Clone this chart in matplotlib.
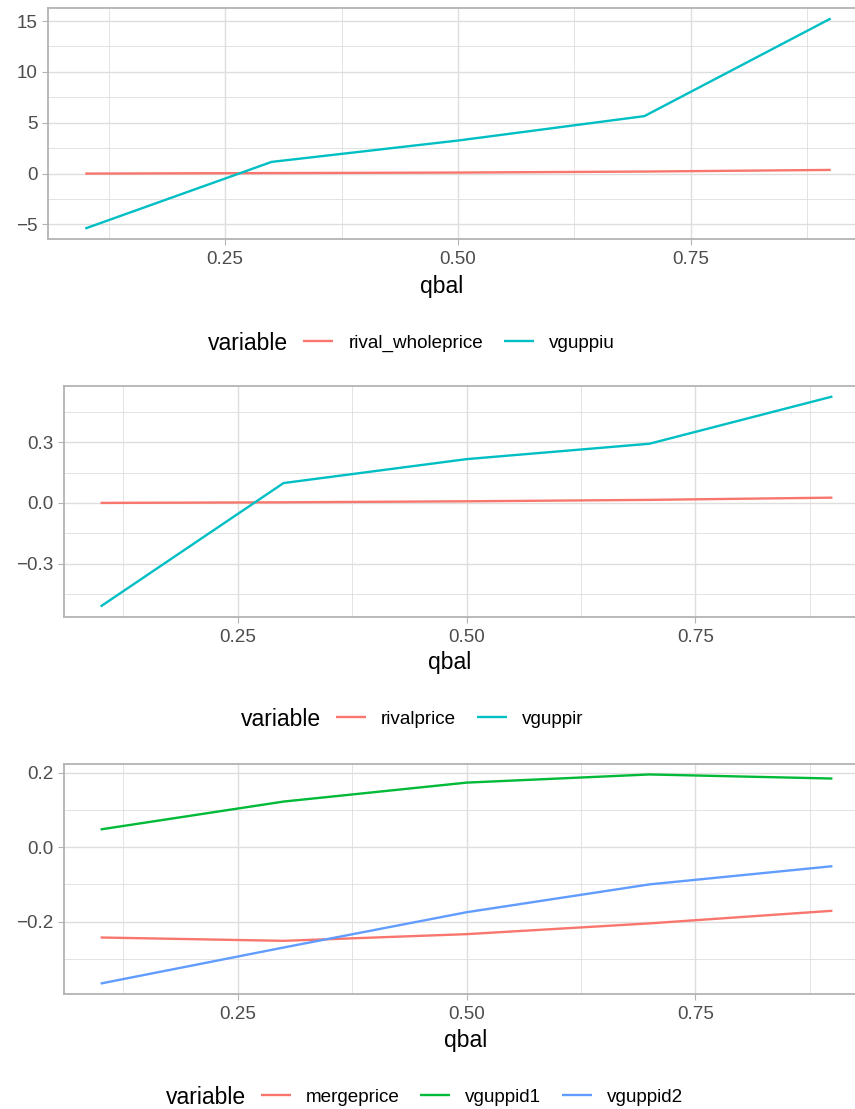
import matplotlib
matplotlib.use("Agg")
import matplotlib.pyplot as plt
from matplotlib.offsetbox import HPacker
from matplotlib.ticker import FixedLocator, FuncFormatter

plt.rcParams['font.family'] = ['Liberation Sans', 'DejaVu Sans']

# ---- data -----------------------------------------------------------------
qbal = [0.1, 0.3, 0.5, 0.7, 0.9]

# upstream panel
rival_wholeprice = [0.0, 0.05, 0.10, 0.20, 0.36]
vguppiu = [-5.40, 1.15, 3.25, 5.65, 15.25]

# retail panel
rivalprice = [0.0, 0.003, 0.008, 0.015, 0.026]
vguppir = [-0.511, 0.098, 0.216, 0.292, 0.525]

# downstream panel
mergeprice = [-0.243, -0.252, -0.234, -0.205, -0.171]
vguppid1 = [0.048, 0.123, 0.174, 0.196, 0.185]
vguppid2 = [-0.367, -0.270, -0.175, -0.100, -0.051]

x_ticks = [0.25, 0.50, 0.75]
x_minor = [0.125, 0.375, 0.625, 0.875]

# ---- styling ---------------------------------------------------------------
HUE2 = ["#F8766D", "#00BFC4"]
HUE3 = ["#F8766D", "#00BA38", "#619CFF"]
GRID = "#DEDEDE"
BORDER = "#B3B3B3"
TICKTXT = "#4D4D4D"
SMALL = 13.6
LARGE = 16.5

W, H = 855, 1109
fig = plt.figure(figsize=(W / 100, H / 100), dpi=100)


def rect(left, top, right, bottom):
    return [left / W, 1 - bottom / H, (right - left) / W, (bottom - top) / H]


def fxy(x, y):
    return (x / W, 1 - y / H)


def expand(vals, frac=0.05):
    lo, hi = min(vals), max(vals)
    d = (hi - lo) * frac
    return lo - d, hi + d


panels = [
    dict(rect=rect(48, 8, 868, 239),
         series=[("rival_wholeprice", rival_wholeprice), ("vguppiu", vguppiu)],
         colors=HUE2,
         yticks=[-5, 0, 5, 10, 15], yminor=[-2.5, 2.5, 7.5, 12.5],
         yfmt=lambda v: f"{v:g}".replace("-", "\u2212"),
         xlabel_at=(441.7, 286), legend_at=(411.5, 343)),
    dict(rect=rect(64, 386, 869, 617),
         series=[("rivalprice", rivalprice), ("vguppir", vguppir)],
         colors=HUE2,
         yticks=[-0.3, 0.0, 0.3], yminor=[-0.45, -0.15, 0.15, 0.45],
         yfmt=lambda v: f"{v:.1f}".replace("-", "\u2212"),
         xlabel_at=(450, 663), legend_at=(412, 719)),
    dict(rect=rect(64, 764, 869, 994),
         series=[("mergeprice", mergeprice), ("vguppid1", vguppid1),
                 ("vguppid2", vguppid2)],
         colors=HUE3,
         yticks=[-0.2, 0.0, 0.2], yminor=[-0.3, -0.1, 0.1],
         yfmt=lambda v: f"{v:.1f}".replace("-", "\u2212"),
         xlabel_at=(466, 1041), legend_at=(424.5, 1097)),
]

for p in panels:
    ax = fig.add_axes(p["rect"])
    handles = []
    all_y = []
    for (name, vals), col in zip(p["series"], p["colors"]):
        (ln,) = ax.plot(qbal, vals, color=col, lw=1.7, label=name,
                        solid_capstyle="butt", zorder=3)
        handles.append(ln)
        all_y += vals

    ax.set_xlim(*expand(qbal))
    ax.set_ylim(*expand(all_y))

    ax.xaxis.set_major_locator(FixedLocator(x_ticks))
    ax.xaxis.set_minor_locator(FixedLocator(x_minor))
    ax.xaxis.set_major_formatter(FuncFormatter(lambda v, _: f"{v:.2f}"))
    ax.yaxis.set_major_locator(FixedLocator(p["yticks"]))
    ax.yaxis.set_minor_locator(FixedLocator(p["yminor"]))
    fmt = p["yfmt"]
    ax.yaxis.set_major_formatter(FuncFormatter(lambda v, _, f=fmt: f(v)))

    ax.grid(which="major", color=GRID, lw=1.0, zorder=0)
    ax.grid(which="minor", color=GRID, lw=0.6, zorder=0)
    ax.set_axisbelow(True)

    for s in ax.spines.values():
        s.set_color(BORDER)
        s.set_linewidth(1.3)
    ax.tick_params(which="major", length=4.3, width=0.8, color=BORDER,
                   labelsize=SMALL, labelcolor=TICKTXT, pad=3)
    ax.tick_params(axis="x", which="major", pad=4.5)
    ax.tick_params(which="minor", length=0)

    ax.set_xlabel("qbal", fontsize=LARGE, color="black")
    ax.xaxis.set_label_coords(*fxy(*p["xlabel_at"]), transform=fig.transFigure)
    ax.xaxis.label.set_va("center")

    leg = fig.legend(handles=handles, loc="center",
                     bbox_to_anchor=fxy(*p["legend_at"]),
                     ncol=len(handles), frameon=False, fontsize=SMALL,
                     title="variable", title_fontsize=LARGE,
                     handlelength=1.59, handletextpad=0.79,
                     columnspacing=1.11, borderpad=0, borderaxespad=0)
    # put the legend title to the left of the keys, on one row
    box = HPacker(pad=0, sep=10.8, align="center",
                  children=[leg._legend_title_box, leg._legend_handle_box])
    box.set_figure(fig)
    leg._legend_box = box
    leg._legend_box.set_offset(leg._findoffset)

fig.savefig("out.png", dpi=100)
